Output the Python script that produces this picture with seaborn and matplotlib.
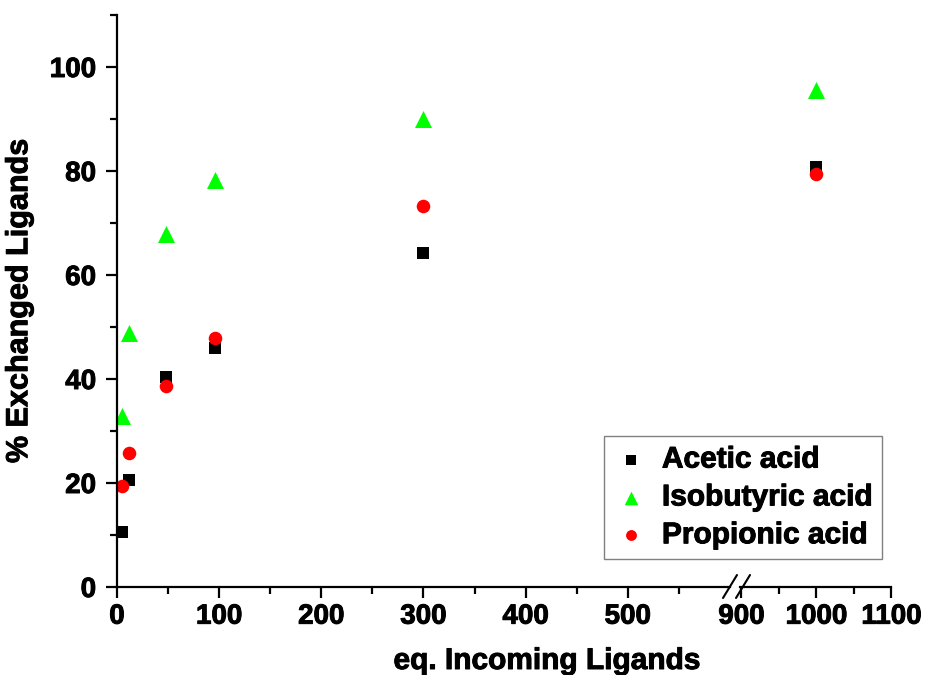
import matplotlib
matplotlib.use("Agg")
import matplotlib.pyplot as plt
from matplotlib.lines import Line2D
from matplotlib.ticker import FixedLocator
import matplotlib.patheffects as pe
import pandas as pd
import seaborn as sns

# ---- data ----
eq_ligands = [5, 12, 48, 96, 300, 1000]
acetic = [10.6, 20.5, 40.3, 45.9, 64.3, 80.7]
isobutyric = [32.8, 48.9, 67.8, 78.3, 90.0, 95.6]
propionic = [19.4, 25.7, 38.6, 47.8, 73.3, 79.4]

series_names = ["Acetic acid", "Isobutyric acid", "Propionic acid"]
series_values = [acetic, isobutyric, propionic]
series_colors = ["#000000", "#00FF00", "#FF0000"]
series_markers = ["s", "^", "o"]
series_sizes = [78, 150, 95]

df = pd.DataFrame({
    "eq": eq_ligands * len(series_names),
    "pct": sum(series_values, []),
    "acid": [n for n in series_names for _ in eq_ligands],
})

sns.set_theme(style="ticks")
plt.rcParams["font.family"] = ["Liberation Sans", "DejaVu Sans"]
plt.rcParams["font.weight"] = "bold"
plt.rcParams["axes.labelweight"] = "bold"
plt.rcParams["text.color"] = "black"
plt.rcParams["axes.labelcolor"] = "black"
plt.rcParams["xtick.color"] = "black"
plt.rcParams["ytick.color"] = "black"
plt.rcParams["axes.edgecolor"] = "black"

# slightly heavier strokes for all text
heavy = [pe.withStroke(linewidth=0.7, foreground="black")]

W, H = 927, 675
fig = plt.figure(figsize=(W / 100, H / 100), dpi=100)

y0_px, ytop_px = 587, 15
ax_b = 1 - y0_px / H
ax_h = (y0_px - ytop_px) / H
axL = fig.add_axes([117 / W, ax_b, (730 - 117) / W, ax_h])
axR = fig.add_axes([740 / W, ax_b, 151.5 / W, ax_h], sharey=axL)

for ax in (axL, axR):
    for name, color, marker, size in zip(series_names, series_colors,
                                         series_markers, series_sizes):
        sub = df[df["acid"] == name]
        sns.scatterplot(data=sub, x="eq", y="pct", ax=ax, color=color,
                        marker=marker, s=size, linewidth=0, label=name,
                        legend=False)

axL.set_xlim(0, 600)
axR.set_xlim(898, 1100)
axL.set_ylim(0, 110)

axL.xaxis.set_major_locator(FixedLocator([0, 100, 200, 300, 400, 500]))
axL.xaxis.set_minor_locator(FixedLocator([50, 150, 250, 350, 450, 550]))
axR.xaxis.set_major_locator(FixedLocator([900, 1000, 1100]))
axR.xaxis.set_minor_locator(FixedLocator([950, 1050]))
axL.yaxis.set_major_locator(FixedLocator([0, 20, 40, 60, 80, 100]))
axL.yaxis.set_minor_locator(FixedLocator([10, 30, 50, 70, 90, 110]))

for ax in (axL, axR):
    for side in ("top", "right"):
        ax.spines[side].set_visible(False)
    ax.spines["bottom"].set_linewidth(1.6)
    ax.spines["left"].set_linewidth(1.6)
    ax.tick_params(axis="both", which="major", direction="out", length=8,
                   width=1.6, labelsize=20, color="black", labelcolor="black")
    ax.tick_params(axis="both", which="minor", direction="out", length=5,
                   width=1.6, color="black")
    ax.tick_params(axis="x", which="major", pad=4)
    ax.tick_params(axis="y", which="major", pad=7)
    ax.set_xlabel("")
    ax.set_ylabel("")
    for lab in ax.get_xticklabels() + ax.get_yticklabels():
        lab.set_fontweight("bold")
        lab.set_path_effects(heavy)

axR.spines["left"].set_visible(False)
axR.tick_params(axis="y", which="both", left=False, labelleft=False)

ylab = axL.set_ylabel("% Exchanged Ligands", fontsize=22, fontweight="bold",
                      color="black")
ylab.set_path_effects(heavy)
axL.yaxis.set_label_coords(-0.135, 0.5)

xlab = fig.text(547 / W, 6 / H, "eq. Incoming Ligands", fontsize=21.5,
                fontweight="bold", ha="center", va="baseline", color="black")
xlab.set_path_effects(heavy)

# axis break marks
for cx in (730, 743):
    fig.add_artist(Line2D([(cx - 7) / W, (cx + 7) / W],
                          [1 - 598 / H, 1 - 575 / H],
                          transform=fig.transFigure, color="black", lw=1.5))

handles, labels = axL.get_legend_handles_labels()
leg = fig.legend(handles, labels, loc="upper left",
                 bbox_to_anchor=(604 / W, 1 - 436 / H), borderaxespad=0,
                 prop={"size": 21.5, "weight": "bold"}, frameon=True,
                 fancybox=False, edgecolor="#808080", framealpha=1,
                 borderpad=0.32, labelspacing=0.33, handletextpad=0.42,
                 handlelength=1.2, markerscale=0.8)
leg.get_frame().set_linewidth(1.0)
for t in leg.get_texts():
    t.set_color("black")
    t.set_path_effects(heavy)

fig.savefig("out.png", dpi=100)
